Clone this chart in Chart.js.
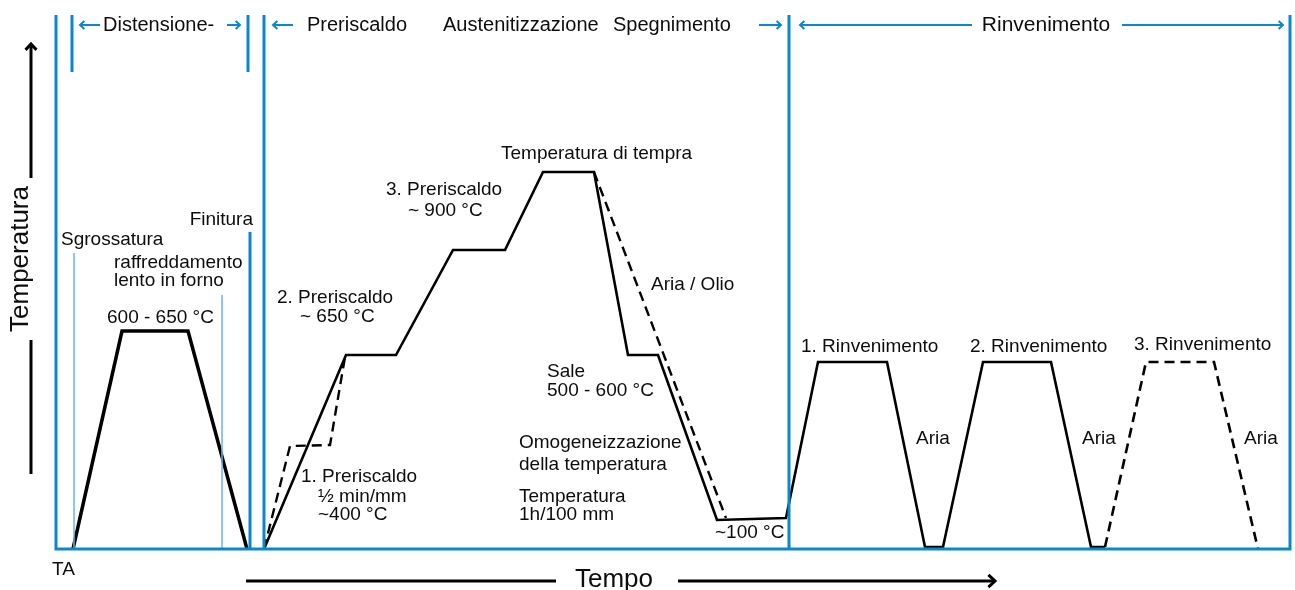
<!DOCTYPE html>
<html lang="it">
<head>
  <meta charset="utf-8">
  <title>Trattamento termico</title>
  <style>
    body { margin: 0; background: #fff; }
    #box { width: 1295px; height: 590px; position: relative; }
  </style>
</head>
<body>
  <div id="box"><canvas id="grafico"></canvas></div>
  <script src="https://cdn.jsdelivr.net/npm/chart.js@4/dist/chart.umd.min.js"></script>
  <script>
    // schema: tempo sull'asse x, temperatura sull'asse y (unita' arbitrarie, 0 = TA)
    var tDistensione = [73, 122, 188, 247];
    var yDistensione = [0, 218, 218, 0];

    var tTempra = [264, 346, 396, 453, 505, 543, 594, 628, 658, 717, 786, 818, 887, 925, 943, 983, 1051, 1091, 1105];
    var yTempra = [0, 194, 194, 299, 299, 377, 377, 194, 194, 29, 31, 187, 187, 2, 2, 187, 187, 2, 2];

    var tPreriscTratt = [264, 290, 330, 345];
    var yPreriscTratt = [0, 103, 104, 192];

    var tAriaOlio = [594, 726];
    var yAriaOlio = [377, 31];

    var tRinv3 = [1105, 1146, 1214, 1258];
    var yRinv3 = [2, 187, 187, 0];

    // cornice e divisori delle fasi
    var tCornice = [56, 56, 1290, 1290];
    var yCornice = [534, 0, 0, 534];
    var divisori = [[264, 0, 534], [789, 0, 534], [72, 477, 534], [248, 477, 534], [250, 0, 317]];
    var divisoriSottili = [[74, 0, 296], [222, 0, 254]];

    var fasi = [['Distensione-', 103], ['Preriscaldo', 307], ['Austenitizzazione', 443], ['Spegnimento', 613]];
    var frecceFasi = [[100, 80], [227, 240], [293, 273], [759, 781], [972, 800], [1122, 1283]];

    var etichette = [
      ['Sgrossatura', 61, 309], ['raffreddamento', 114, 286], ['lento in forno', 114, 268],
      ['600 - 650 °C', 107, 231], ['2. Preriscaldo', 277, 251], ['~ 650 °C', 300, 232],
      ['1. Preriscaldo', 301, 72], ['½ min/mm', 318, 52], ['~400 °C', 318, 34],
      ['3. Preriscaldo', 386, 359], ['~ 900 °C', 408, 338], ['Temperatura di tempra', 501, 395],
      ['Aria / Olio', 651, 264], ['Sale', 547, 177], ['500 - 600 °C', 547, 158],
      ['Omogeneizzazione', 519, 106], ['della temperatura', 519, 84], ['Temperatura', 519, 52],
      ['1h/100 mm', 519, 34], ['~100 °C', 715, 16], ['1. Rinvenimento', 801, 202],
      ['2. Rinvenimento', 970, 202], ['3. Rinvenimento', 1134, 204], ['Aria', 916, 110],
      ['Aria', 1082, 110], ['Aria', 1244, 110], ['TA', 52, -21]
    ];

    var BLU = '#0a88cc';
    var FONT = '"Liberation Sans", Arial, Helvetica, sans-serif';

    function punti(xs, ys) {
      var p = [];
      for (var i = 0; i < xs.length; i++) p.push({ x: xs[i], y: ys[i] });
      return p;
    }
    function linea(xs, ys, colore, spessore, tratto) {
      return {
        data: punti(xs, ys), showLine: true, borderColor: colore, borderWidth: spessore,
        borderDash: tratto || [], pointRadius: 0, tension: 0, fill: false,
        borderJoinStyle: 'miter', clip: false
      };
    }

    var datasets = [];
    datasets.push(linea(tCornice, yCornice, BLU, 3));
    divisori.forEach(function (d) { datasets.push(linea([d[0], d[0]], [d[1], d[2]], BLU, 3)); });
    divisoriSottili.forEach(function (d) { datasets.push(linea([d[0], d[0]], [d[1], d[2]], '#6ab4e4', 1.5)); });
    datasets.push(linea(tDistensione, yDistensione, '#000', 3.5));
    datasets.push(linea(tTempra, yTempra, '#000', 2.6));
    datasets.push(linea(tPreriscTratt, yPreriscTratt, '#000', 2.4, [10, 6]));
    datasets.push(linea(tAriaOlio, yAriaOlio, '#000', 2.4, [10, 6]));
    datasets.push(linea(tRinv3, yRinv3, '#000', 2.6, [10, 6]));

    function freccia(ctx, x0, y0, x1, y1, punta) {
      ctx.beginPath();
      ctx.moveTo(x0, y0);
      ctx.lineTo(x1, y1);
      ctx.stroke();
      var a = Math.atan2(y1 - y0, x1 - x0);
      ctx.beginPath();
      ctx.moveTo(x1 - punta * Math.cos(a - 0.75), y1 - punta * Math.sin(a - 0.75));
      ctx.lineTo(x1, y1);
      ctx.lineTo(x1 - punta * Math.cos(a + 0.75), y1 - punta * Math.sin(a + 0.75));
      ctx.stroke();
    }

    var testi = {
      id: 'testi',
      afterDatasetsDraw: function (chart) {
        var ctx = chart.ctx, sx = chart.scales.x, sy = chart.scales.y;
        var X = function (v) { return sx.getPixelForValue(v); };
        var Y = function (v) { return sy.getPixelForValue(v); };
        ctx.save();
        ctx.fillStyle = '#0d0d0d';
        ctx.textBaseline = 'middle';

        ctx.font = '19px ' + FONT;
        ctx.textAlign = 'left';
        etichette.forEach(function (e) { ctx.fillText(e[0], X(e[1]), Y(e[2])); });
        ctx.textAlign = 'right';
        ctx.fillText('Finitura', X(253), Y(329));

        ctx.font = '20px ' + FONT;
        ctx.textAlign = 'left';
        fasi.forEach(function (f) { ctx.fillText(f[0], X(f[1]), Y(524)); });
        ctx.font = '21px ' + FONT;
        ctx.textAlign = 'center';
        ctx.fillText('Rinvenimento', X(1046), Y(524));

        ctx.strokeStyle = BLU;
        ctx.lineWidth = 2;
        ctx.lineCap = 'butt';
        frecceFasi.forEach(function (f) { freccia(ctx, X(f[0]), Y(524), X(f[1]), Y(524), 6); });

        // assi disegnati a mano
        ctx.strokeStyle = '#000';
        ctx.lineWidth = 3;
        freccia(ctx, X(31), Y(371), X(31), Y(505), 8);
        ctx.beginPath();
        ctx.moveTo(X(31), Y(209));
        ctx.lineTo(X(31), Y(75));
        ctx.stroke();
        ctx.beginPath();
        ctx.moveTo(X(246), Y(-32));
        ctx.lineTo(X(556), Y(-32));
        ctx.stroke();
        freccia(ctx, X(678), Y(-32), X(995), Y(-32), 9);

        ctx.font = '26px ' + FONT;
        ctx.textAlign = 'left';
        ctx.fillText('Tempo', X(575), Y(-31));
        ctx.translate(X(21), Y(290));
        ctx.rotate(-Math.PI / 2);
        ctx.textAlign = 'center';
        ctx.fillText('Temperatura', 0, 0);
        ctx.restore();
      }
    };

    var chart = new Chart(document.getElementById('grafico').getContext('2d'), {
      type: 'scatter',
      data: { datasets: datasets },
      options: {
        responsive: true,
        maintainAspectRatio: false,
        animation: false,
        layout: { padding: 0 },
        plugins: { legend: { display: false }, tooltip: { enabled: false } },
        scales: {
          x: { type: 'linear', min: 0, max: 1295, display: false },
          y: { type: 'linear', min: -41, max: 549, display: false }
        }
      },
      plugins: [testi]
    });
  </script>
</body>
</html>
